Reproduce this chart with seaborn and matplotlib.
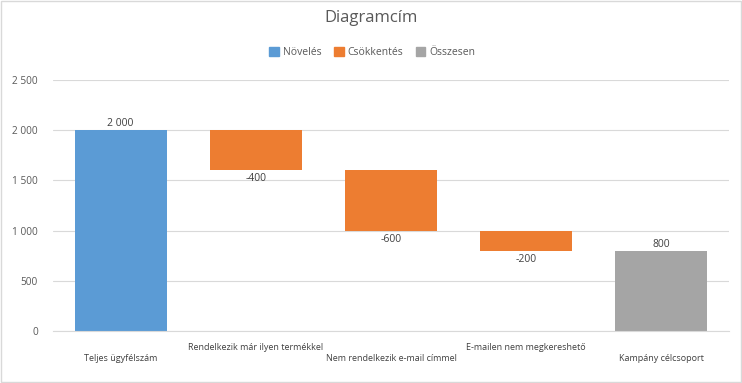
"""Waterfall chart: customer funnel for the campaign target group."""
import matplotlib
matplotlib.use("Agg")
import matplotlib.pyplot as plt
from matplotlib.patches import Rectangle
from matplotlib.ticker import FuncFormatter, MultipleLocator
import seaborn as sns

categories = [
    "Teljes ügyfélszám",
    "Rendelkezik már ilyen termékkel",
    "Nem rendelkezik e-mail címmel",
    "E-mailen nem megkereshető",
    "Kampány célcsoport",
]
values = [2000, -400, -600, -200, 800]
kinds = ["Növelés", "Csökkentés", "Csökkentés", "Csökkentés", "Összesen"]
kind_order = ["Növelés", "Csökkentés", "Összesen"]
palette = {"Növelés": "#5B9BD5", "Csökkentés": "#ED7D31", "Összesen": "#A5A5A5"}

TEXT = "#595959"
GRID = "#D9D9D9"


def fmt(v):
    return f"{int(v):,}".replace(",", " ")


# floating bar extents from the running total
bases, tops = [], []
running = 0
for v, k in zip(values, kinds):
    if k == "Összesen":
        bases.append(0)
        tops.append(v)
    elif v >= 0:
        bases.append(running)
        tops.append(running + v)
        running += v
    else:
        bases.append(running + v)
        tops.append(running)
        running += v

sns.set_theme(style="white")
plt.rcParams["font.family"] = ["Open Sans", "DejaVu Sans"]

fig = plt.figure(figsize=(7.42, 3.83), dpi=100)
ax = fig.add_axes([0.0715, 0.1358, 0.911, 0.6552])

sns.barplot(x=categories, y=tops, hue=kinds, hue_order=kind_order, palette=palette,
            dodge=False, width=0.68, saturation=1, ax=ax, zorder=2)

for p in ax.patches:
    idx = int(round(p.get_x() + p.get_width() / 2))
    if idx < 0 or idx >= len(values) or p.get_height() == 0:
        continue
    p.set_y(bases[idx])
    p.set_height(tops[idx] - bases[idx])
    p.set_edgecolor("none")

for i, v in enumerate(values):
    if v >= 0:
        ax.text(i, tops[i] + 8, fmt(v), ha="center", va="bottom", fontsize=7.5, color="#404040")
    else:
        ax.text(i, bases[i] - 30, str(v), ha="center", va="top", fontsize=7.5, color="#404040")

ax.set_ylim(0, 2500)
ax.set_xlim(-0.5, len(categories) - 0.5)
ax.yaxis.set_major_locator(MultipleLocator(500))
ax.yaxis.set_major_formatter(FuncFormatter(lambda y, _: fmt(y)))
ax.grid(axis="y", color=GRID, linewidth=0.8, zorder=0)
ax.set_axisbelow(True)
for s in ["top", "left", "right"]:
    ax.spines[s].set_visible(False)
ax.spines["bottom"].set_color(GRID)
ax.spines["bottom"].set_linewidth(0.8)

ax.set_xticks(range(len(categories)))
ax.set_xticklabels([("\n" + c) if i % 2 == 0 else c for i, c in enumerate(categories)],
                   fontsize=6.5, color="#404040")
ax.tick_params(axis="x", length=0, pad=9)
ax.tick_params(axis="y", length=0, pad=11, labelsize=7.3, labelcolor=TEXT)
ax.set_xlabel("")
ax.set_ylabel("")

ax.legend_.remove()
handles = [Rectangle((0, 0), 1, 1, color=palette[k]) for k in kind_order]
fig.legend(handles, kind_order, loc="center", bbox_to_anchor=(0.502, 0.862), ncol=3,
           frameon=False, fontsize=7.5, labelcolor=TEXT, handlelength=0.9, handleheight=0.9,
           handletextpad=0.4, columnspacing=1.2)

fig.text(0.5, 0.952, "Diagramcím", ha="center", va="center", fontsize=12, color=TEXT)

fig.patches.append(Rectangle((0.001, 0.002), 0.997, 0.996, transform=fig.transFigure,
                             fill=False, edgecolor=GRID, linewidth=1))

fig.savefig("out.png", dpi=100)
